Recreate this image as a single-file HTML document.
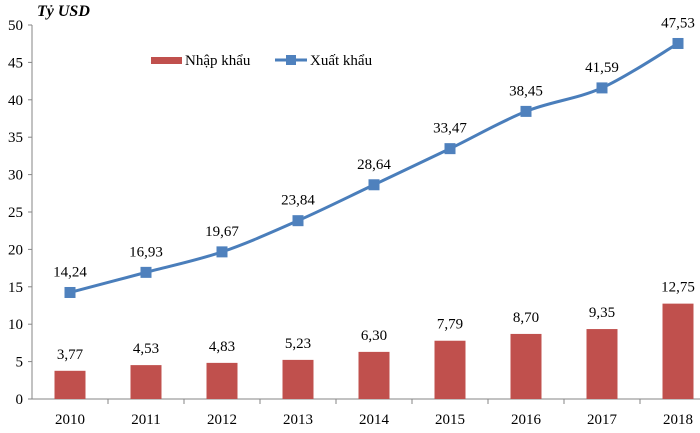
<!DOCTYPE html>
<html><head><meta charset="utf-8"><style>
body{margin:0;background:#fff}
svg text{font-family:"Liberation Serif",serif;fill:#000}
</style></head><body>
<svg id="c" width="700" height="428" xmlns="http://www.w3.org/2000/svg">
<text x="37" y="16" font-size="16" font-weight="bold" font-style="italic">Tỷ USD</text>
<g>
<rect x="151" y="57" width="31" height="7" fill="#c0504d"/>
<text x="185" y="65" font-size="15">Nhập khẩu</text>
<line x1="275" y1="60" x2="307" y2="60" stroke="#4a7ebb" stroke-width="3"/>
<rect x="286" y="55" width="10" height="10" fill="#4f81bd"/>
<text x="310" y="65" font-size="15">Xuất khẩu</text>
</g>
</svg>
<script>
const categories=["2010","2011","2012","2013","2014","2015","2016","2017","2018"];
const importVals=[3.77,4.53,4.83,5.23,6.30,7.79,8.70,9.35,12.75];
const exportVals=[14.24,16.93,19.67,23.84,28.64,33.47,38.45,41.59,47.53];
const yTicks=[0,5,10,15,20,25,30,35,40,45,50];
const svg=document.getElementById('c');
const NS='http://www.w3.org/2000/svg';
const x0=32,step=76,yb=399,yt=25,ymax=50;
const X=i=>x0+step*(i+0.5);
const Y=v=>yb-(v/ymax)*(yb-yt);
function mk(t,a){const e=document.createElementNS(NS,t);for(const k in a)e.setAttribute(k,a[k]);svg.appendChild(e);return e;}
const fmt=v=>v.toFixed(2).replace('.',',');
let e=mk('line',{x1:x0,y1:yt,x2:x0,y2:yb,stroke:'#868686'});


e=mk('line',{x1:x0,y1:yb,x2:700,y2:yb,stroke:'#868686'});


yTicks.forEach(v=>{
 let t=mk('line',{x1:x0-4,y1:Y(v),x2:x0,y2:Y(v),stroke:'#868686'});
 
 
 let l=mk('text',{x:x0-9,y:Y(v)+5,'font-size':15,'text-anchor':'end'});
 l.textContent=v;
 
 
});
categories.forEach((c,i)=>{
 let t=mk('line',{x1:x0+step*(i+1),y1:yb,x2:x0+step*(i+1),y2:yb+5,stroke:'#868686'});
 
 
 let l=mk('text',{x:X(i),y:yb+25,'font-size':15,'text-anchor':'middle'});
 l.textContent=c;
 
 
 let b=mk('rect',{x:X(i)-15.5,y:Y(importVals[i]),width:31,height:yb-Y(importVals[i]),fill:'#c0504d'});
 
 
 let bl=mk('text',{x:X(i),y:Y(importVals[i])-12,'font-size':15,'text-anchor':'middle'});
 bl.textContent=fmt(importVals[i]);
 
 
});
const pts=exportVals.map((v,i)=>[X(i),Y(v)]);
let d=`M${pts[0][0]},${pts[0][1]}`;
const tn=1/6;
for(let i=1;i<pts.length;i++){
 const p0=pts[Math.max(i-2,0)],p1=pts[i-1],p2=pts[i],p3=pts[Math.min(i+1,pts.length-1)];
 const c1x=p1[0]+(p2[0]-p0[0])*tn,c1y=p1[1]+(p2[1]-p0[1])*tn;
 const c2x=p2[0]-(p3[0]-p1[0])*tn,c2y=p2[1]-(p3[1]-p1[1])*tn;
 d+=` C${c1x},${c1y} ${c2x},${c2y} ${p2[0]},${p2[1]}`;
}
let ln=mk('path',{d:d,fill:'none',stroke:'#4a7ebb','stroke-width':3});


exportVals.forEach((v,i)=>{
 let m=mk('rect',{x:X(i)-5.5,y:Y(v)-5.5,width:11,height:11,fill:'#4f81bd'});
 
 
 let l=mk('text',{x:X(i),y:Y(v)-16,'font-size':15,'text-anchor':'middle'});
 l.textContent=fmt(v);
 
 
});
</script>
</body></html>
